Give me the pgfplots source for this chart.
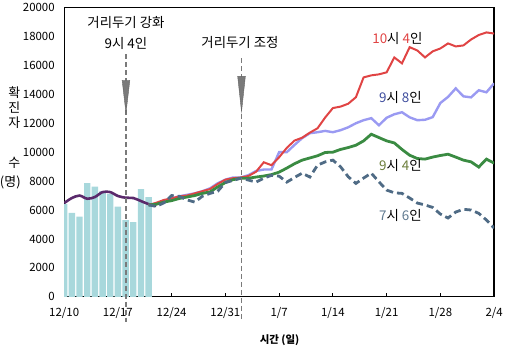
\documentclass[border=0pt]{standalone}
\usepackage{fontspec}
\setmainfont{Noto Sans CJK KR}
\usepackage{pgfplots}
\pgfplotsset{compat=1.18}
\definecolor{cred}{HTML}{E04444}
\definecolor{clav}{HTML}{9A9AF2}
\definecolor{cgreen}{HTML}{3A8B42}
\definecolor{cdash}{HTML}{4F6B85}
\definecolor{cpurple}{HTML}{5A2A6C}
\definecolor{cbar}{HTML}{A8D8DC}
\definecolor{carrow}{HTML}{7A7A7A}
\definecolor{tblue}{HTML}{3F4E9E}
\definecolor{tgreen}{HTML}{6B7D3A}
\definecolor{tslate}{HTML}{607A90}
\begin{document}
\begin{tikzpicture}
\begin{axis}[
 at={(0,0)}, anchor=south west,
 width=431bp, height=290bp, scale only axis,
 xmin=0, xmax=56, ymin=0, ymax=20000,
 xtick={0,7,...,56},
 xticklabels={12/10,12/17,12/24,12/31,1/7,1/14,1/21,1/28,2/4},
 ytick={0,2000,...,20000},
 scaled y ticks=false,
 /pgf/number format/assume math mode=true,
 yticklabel={\pgfmathprintnumber[1000 sep={}]{\tick}},
 yticklabel style={font=\fontsize{11.5}{13}\selectfont, xshift=-6bp},
 xticklabel style={font=\fontsize{11.5}{13}\selectfont, yshift=-7bp},
 xtick pos=bottom, ytick pos=left,
 tick align=inside,
 major tick length=4bp,
 ytick style={draw=none},
 xtick style={black, line width=0.8bp},
 axis line style={black, line width=1.3bp},
 no markers,
]
\addplot[ybar, bar width=6.4bp, fill=cbar, draw=none] coordinates {
(0,6400) (1,5810) (2,5540) (3,7860) (4,7610) (5,7300) (6,7100) (7,6230) (8,5310) (9,5170) (10,7450) (11,6900)};
\addplot[cpurple, line width=2.6bp, smooth] coordinates {
(0,6480) (1,6830) (2,7000) (3,6780) (4,6900) (5,7240) (6,7240) (7,6970) (8,6850) (9,6830) (10,6620) (11,6410) (12,6300)};
\addplot[clav, line width=2.4bp] coordinates {
(11,6350) (12,6450) (13,6650) (14,6800) (15,6950) (16,7050) (17,7150) (18,7300) (19,7500) (20,7850) (21,8100) (22,8250) (23,8250) (24,8410) (25,8700) (26,8800) (27,8800) (28,10000) (29,10000) (30,10500) (31,10970) (32,11310) (33,11380) (34,11470) (35,11380) (36,11520) (37,11720) (38,12000) (39,12210) (40,12350) (41,11860) (42,12380) (43,12620) (44,12760) (45,12410) (46,12210) (47,12240) (48,12420) (49,13400) (50,13820) (51,14410) (52,13860) (53,13790) (54,14280) (55,14140) (56,14760)};
\addplot[cred, line width=2bp] coordinates {
(11,6350) (12,6500) (13,6700) (14,6800) (15,6950) (16,7000) (17,7150) (18,7300) (19,7450) (20,7800) (21,8100) (22,8200) (23,8250) (24,8350) (25,8650) (26,9300) (27,9100) (28,9650) (29,10300) (30,10800) (31,11000) (32,11350) (33,11650) (34,12400) (35,13050) (36,13150) (37,13350) (38,13800) (39,15170) (40,15310) (41,15380) (42,15520) (43,16550) (44,16140) (45,17260) (46,17030) (47,16550) (48,16970) (49,17170) (50,17520) (51,17310) (52,17380) (53,17790) (54,18100) (55,18280) (56,18200)};
\addplot[cgreen, line width=2.8bp] coordinates {
(11,6350) (12,6400) (13,6550) (14,6650) (15,6800) (16,6900) (17,7000) (18,7150) (19,7250) (20,7600) (21,7900) (22,8100) (23,8200) (24,8200) (25,8280) (26,8350) (27,8450) (28,8620) (29,8900) (30,9200) (31,9450) (32,9600) (33,9750) (34,9980) (35,10000) (36,10190) (37,10320) (38,10480) (39,10780) (40,11240) (41,11010) (42,10780) (43,10640) (44,10190) (45,9790) (46,9560) (47,9520) (48,9660) (49,9770) (50,9860) (51,9660) (52,9450) (53,9330) (54,8970) (55,9520) (56,9240)};
\addplot[cdash, line width=2.8bp, dash pattern=on 7bp off 4bp] coordinates {
(11,6350) (12,6250) (13,6500) (14,7000) (15,6950) (16,6700) (17,6550) (18,6950) (19,7150) (20,7300) (21,7900) (22,8050) (23,8200) (24,8070) (25,7930) (26,8200) (27,8400) (28,8340) (29,7930) (30,8250) (31,8550) (32,8280) (33,9100) (34,9330) (35,9450) (36,8990) (37,8300) (38,7840) (39,8210) (40,8550) (41,7950) (42,7380) (43,7190) (44,7150) (45,6830) (46,6480) (47,6350) (48,6180) (49,5720) (50,5450) (51,5860) (52,6050) (53,6000) (54,5770) (55,5310) (56,4760)};
\coordinate (a1t) at (axis cs:8.05,16760);
\coordinate (a1b) at (axis cs:8.05,-1720);
\coordinate (t1l) at (axis cs:7.55,14970);
\coordinate (t1r) at (axis cs:8.55,14970);
\coordinate (t1b) at (axis cs:8.05,12700);
\coordinate (a2t) at (axis cs:23.1,16480);
\coordinate (a2b) at (axis cs:23.1,-1720);
\coordinate (t2l) at (axis cs:22.6,15240);
\coordinate (t2r) at (axis cs:23.6,15240);
\coordinate (t2b) at (axis cs:23.1,12800);
\coordinate (n1) at (axis cs:8.05,18240);
\coordinate (n2) at (axis cs:22.9,17590);
\coordinate (l1) at (axis cs:43.4,17860);
\coordinate (l2) at (axis cs:43.8,13790);
\coordinate (l3) at (axis cs:43.8,9110);
\coordinate (l4) at (axis cs:43.8,5590);
\end{axis}
\draw[carrow, line width=1.8bp, dash pattern=on 5bp off 3bp] (a1t) -- (a1b);
\draw[carrow, line width=1.8bp, dash pattern=on 5bp off 3bp] (a2t) -- (a2b);
\filldraw[fill=carrow, draw=carrow!80!black, line width=0.4bp] (t1l) -- (t1r) -- (t1b) -- cycle;
\filldraw[fill=carrow, draw=carrow!80!black, line width=0.4bp] (t2l) -- (t2r) -- (t2b) -- cycle;
\node[align=center, font=\fontsize{13.5}{21}\selectfont, inner sep=0] at (n1) {거리두기 강화\\9시 4인};
\node[font=\fontsize{13.5}{15}\selectfont, inner sep=0] at (n2) {거리두기 조정};
\node[font=\fontsize{13.5}{15}\selectfont, inner sep=0] at (l1) {\textcolor{cred}{10}시 \textcolor{cred}{4}인};
\node[font=\fontsize{13.5}{15}\selectfont, inner sep=0] at (l2) {\textcolor{tblue}{9}시 \textcolor{tblue}{8}인};
\node[font=\fontsize{13.5}{15}\selectfont, inner sep=0] at (l3) {\textcolor{tgreen}{9}시 \textcolor{tgreen}{4}인};
\node[font=\fontsize{13.5}{15}\selectfont, inner sep=0] at (l4) {\textcolor{tslate}{7}시 \textcolor{tslate}{6}인};
\node[font=\fontsize{13}{14}\selectfont, inner sep=0] at (-50bp,205bp) {확};
\node[font=\fontsize{13}{14}\selectfont, inner sep=0] at (-50bp,190bp) {진};
\node[font=\fontsize{13}{14}\selectfont, inner sep=0] at (-50bp,175bp) {자};
\node[font=\fontsize{13}{14}\selectfont, inner sep=0] at (-50bp,134bp) {수};
\node[font=\fontsize{13}{14}\selectfont, inner sep=0] at (-54bp,115bp) {(명)};
\node[font=\bfseries\fontsize{10.5}{12}\selectfont, inner sep=0] at (216bp,-43bp) {시간 (일)};
\path[use as bounding box] (-64bp,-52bp) rectangle (442bp,297bp);
\end{tikzpicture}
\end{document}
